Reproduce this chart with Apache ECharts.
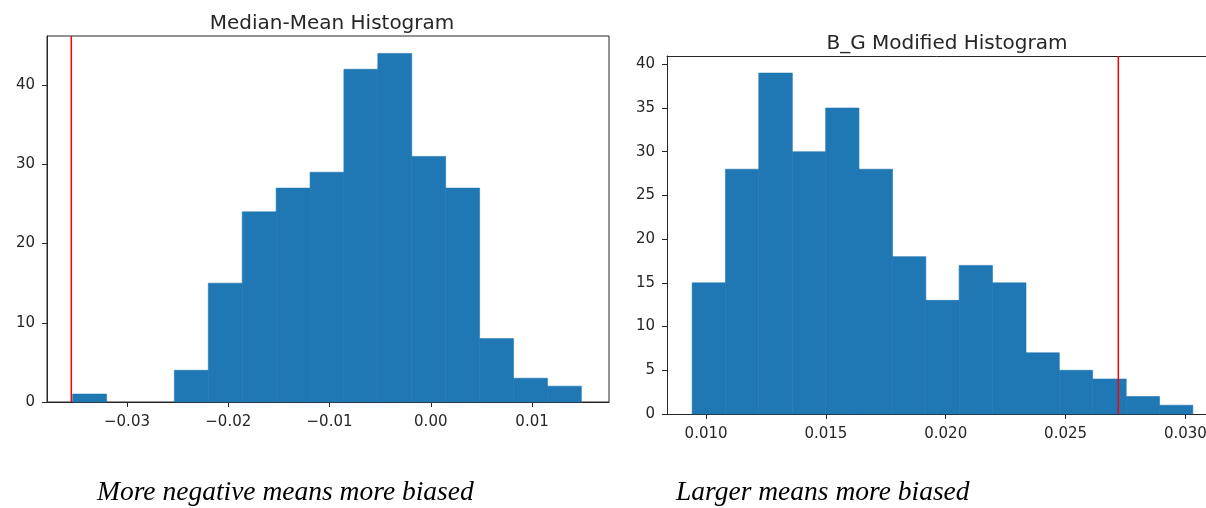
<!DOCTYPE html>
<html>
<head>
<meta charset="utf-8">
<title>Histograms</title>
<script src="https://cdn.jsdelivr.net/npm/echarts@6/dist/echarts.min.js"></script>
<style>
  html, body { margin: 0; padding: 0; background: #fff; }
  #chart { width: 1206px; height: 508px; }
</style>
</head>
<body>
<div id="chart"></div>
<script>
// left panel: Median-Mean
const leftEdges = [-0.03537, -0.03202, -0.02867, -0.02532, -0.02197, -0.01862, -0.01527, -0.01192,
  -0.00858, -0.00523, -0.00188, 0.00147, 0.00482, 0.00817, 0.01152, 0.01487];
const leftCounts = [1, 0, 0, 4, 15, 24, 27, 29, 42, 44, 31, 27, 8, 3, 2];
const leftMarker = -0.0355;
const leftXTicks = [-0.03, -0.02, -0.01, 0.00, 0.01];
const leftYTicks = [0, 10, 20, 30, 40];

// right panel: B_G Modified (plot runs past the right edge of the image)
const rightEdges = [0.00942, 0.01081, 0.01220, 0.01360, 0.01499, 0.01638, 0.01778, 0.01917,
  0.02056, 0.02195, 0.02335, 0.02474, 0.02613, 0.02753, 0.02892, 0.03031];
const rightCounts = [15, 28, 39, 30, 35, 28, 18, 13, 17, 15, 7, 5, 4, 2, 1];
const rightMarker = 0.0272;
const rightXTicks = [0.010, 0.015, 0.020, 0.025, 0.030];
const rightYTicks = [0, 5, 10, 15, 20, 25, 30, 35, 40];

const BLUE = "#1f77b4";
const INK = "#262626";
const FONT = "DejaVu Sans";

function bins(edges, counts) {
  return counts.map((c, i) => [edges[i], edges[i + 1], c]);
}

function renderBin(params, api) {
  const top = api.coord([api.value(0), api.value(2)]);
  const bottom = api.coord([api.value(1), 0]);
  const empty = api.value(2) === 0;
  return {
    type: "rect",
    shape: { x: top[0], y: top[1], width: bottom[0] - top[0], height: bottom[1] - top[1] },
    style: { fill: BLUE, stroke: empty ? null : BLUE, lineWidth: 0.6 }
  };
}

function xAxis(idx, min, max, ticks, digits) {
  return {
    type: "value",
    gridIndex: idx,
    min: min,
    max: max,
    axisLine: { show: true, onZero: false, lineStyle: { color: INK } },
    axisTick: { show: true, length: 5, customValues: ticks, lineStyle: { color: INK } },
    splitLine: { show: false },
    axisLabel: {
      customValues: ticks,
      margin: 13,
      color: INK,
      fontFamily: FONT,
      fontSize: 15,
      formatter: v => v.toFixed(digits).replace("-", "\u2212")
    }
  };
}

// top spine only
function topSpine(idx, min, max) {
  return {
    type: "value",
    gridIndex: idx,
    position: "top",
    min: min,
    max: max,
    axisLine: { show: true, onZero: false, lineStyle: { color: INK } },
    axisTick: { show: false },
    axisLabel: { show: false },
    splitLine: { show: false }
  };
}

function yAxis(idx, max, ticks) {
  return {
    type: "value",
    gridIndex: idx,
    min: 0,
    max: max,
    axisLine: { show: true, onZero: false, lineStyle: { color: INK } },
    axisTick: { show: true, length: 5, customValues: ticks, lineStyle: { color: INK } },
    splitLine: { show: false },
    axisLabel: {
      customValues: ticks,
      margin: 12,
      color: INK,
      fontFamily: FONT,
      fontSize: 15
    }
  };
}

const leftYMax = 46.2;
const rightYMax = 40.95;
const leftXMin = -0.0379, leftXMax = 0.0176;
const rightXMin = 0.00837, rightXMax = 0.03136;

const chart = echarts.init(document.getElementById("chart"));
chart.setOption({
  animation: false,
  backgroundColor: "#fff",
  title: [
    {
      text: "Median-Mean Histogram",
      left: 327, top: 9, textAlign: "center",
      textStyle: { fontFamily: FONT, fontSize: 20, fontWeight: "normal", color: INK }
    },
    {
      text: "B_G Modified Histogram",
      left: 942, top: 29, textAlign: "center",
      textStyle: { fontFamily: FONT, fontSize: 20, fontWeight: "normal", color: INK }
    }
  ],
  grid: [
    { left: 47, top: 36, width: 562, height: 366, show: true, borderColor: INK, borderWidth: 1,
      outerBoundsMode: "none" },
    { left: 667, top: 56, width: 551, height: 358, show: false, outerBoundsMode: "none" }
  ],
  xAxis: [
    xAxis(0, leftXMin, leftXMax, leftXTicks, 2),
    xAxis(1, rightXMin, rightXMax, rightXTicks, 3),
    topSpine(1, rightXMin, rightXMax)
  ],
  yAxis: [
    yAxis(0, leftYMax, leftYTicks),
    yAxis(1, rightYMax, rightYTicks)
  ],
  series: [
    {
      type: "custom",
      xAxisIndex: 0, yAxisIndex: 0,
      renderItem: renderBin,
      encode: { x: [0, 1], y: 2 },
      data: bins(leftEdges, leftCounts)
    },
    {
      type: "line",
      xAxisIndex: 0, yAxisIndex: 0,
      showSymbol: false,
      lineStyle: { color: "#ff0000", width: 1.5 },
      data: [[leftMarker, 0], [leftMarker, leftYMax]]
    },
    {
      type: "custom",
      xAxisIndex: 1, yAxisIndex: 1,
      renderItem: renderBin,
      encode: { x: [0, 1], y: 2 },
      data: bins(rightEdges, rightCounts)
    },
    {
      type: "line",
      xAxisIndex: 1, yAxisIndex: 1,
      showSymbol: false,
      lineStyle: { color: "#ff0000", width: 1.5 },
      data: [[rightMarker, 0], [rightMarker, rightYMax]]
    }
  ],
  graphic: [
    {
      type: "text", left: 97, top: 479,
      style: { text: "More negative means more biased", font: "italic 27.5px 'Liberation Serif'", fill: "#000" }
    },
    {
      type: "text", left: 676, top: 479,
      style: { text: "Larger means more biased", font: "italic 27.5px 'Liberation Serif'", fill: "#000" }
    }
  ]
});
</script>
</body>
</html>
